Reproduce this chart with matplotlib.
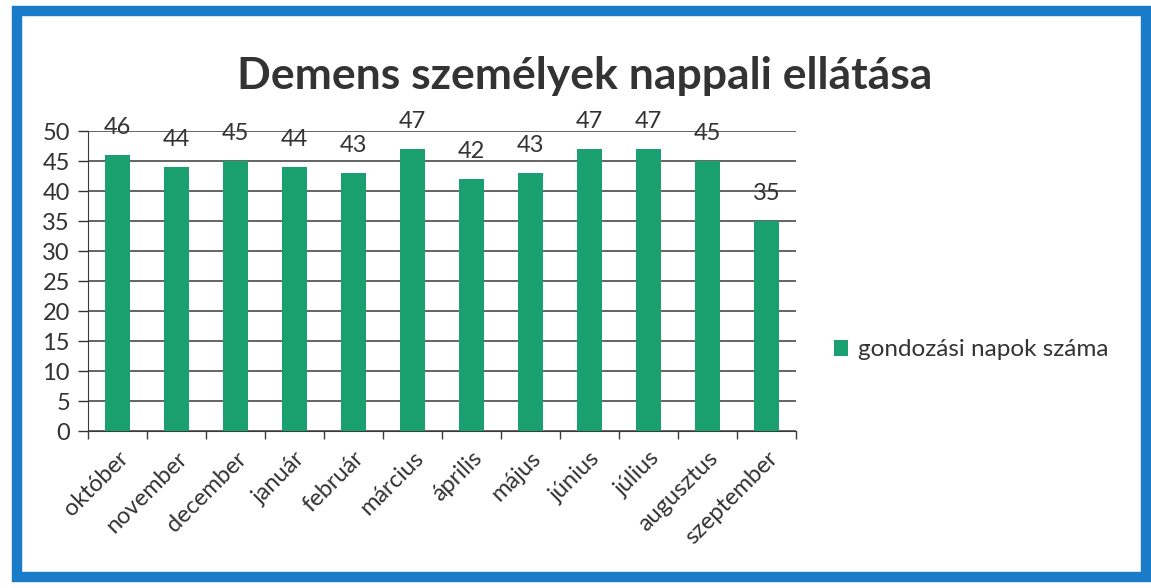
import matplotlib.pyplot as plt
from matplotlib.patches import Rectangle

months = ["október", "november", "december", "január", "február", "március",
          "április", "május", "június", "július", "augusztus", "szeptember"]
days = [46, 44, 45, 44, 43, 47, 42, 43, 47, 47, 45, 35]
series_name = "gondozási napok száma"
title = "Demens személyek nappali ellátása"

plt.rcParams['font.family'] = ['Lato', 'DejaVu Sans']

fig = plt.figure(figsize=(11.51, 5.88), dpi=100)
fig.patch.set_facecolor("white")

# blue frame round the whole chart
fig.patches.append(Rectangle((17 / 1151, 11 / 588), 1129 / 1151, 566 / 588,
                             transform=fig.transFigure, fill=False,
                             edgecolor="#1a7cc8", linewidth=7.5))

ax = fig.add_axes([88 / 1151, 157 / 588, 708 / 1151, 300 / 588])

x = range(len(months))
bars = ax.bar(x, days, width=0.43, color="#1a9f70", label=series_name, zorder=3)

for b, v in zip(bars, days):
    ax.text(b.get_x() + b.get_width() / 2, v + 4.5, str(v), ha="center", va="center",
            fontsize=17, color="#333333", zorder=4)

ax.set_xlim(-0.5, len(months) - 0.5)
ax.set_ylim(0, 50)
ax.set_yticks(range(0, 51, 5))
ax.tick_params(axis="y", labelsize=17, colors="#333333", length=7, width=1, pad=6)
ax.yaxis.grid(True, color="#3a3a3a", linewidth=1.1, zorder=0)

ax.set_xticks(list(x))
ax.set_xticklabels(months, rotation=45, ha="right", rotation_mode="anchor",
                   fontsize=17, color="#333333")
ax.tick_params(axis="x", length=0, pad=12)
ax.set_xticks([i - 0.5 for i in range(len(months) + 1)], minor=True)
ax.tick_params(axis="x", which="minor", length=6, width=1, color="#3a3a3a")

for s in ["top", "right"]:
    ax.spines[s].set_visible(False)
for s in ["left", "bottom"]:
    ax.spines[s].set_color("#3a3a3a")

fig.text(585 / 1151, 1 - 76 / 588, title, ha="center", va="center",
         fontsize=32, fontweight="bold", color="#333333")

fig.legend(loc="center left", bbox_to_anchor=(812 / 1151, 1 - 350 / 588),
           frameon=False, fontsize=17.5, handlelength=0.6, handleheight=0.6,
           handletextpad=0.4, labelcolor="#333333")

fig.savefig("out.png", dpi=100)
